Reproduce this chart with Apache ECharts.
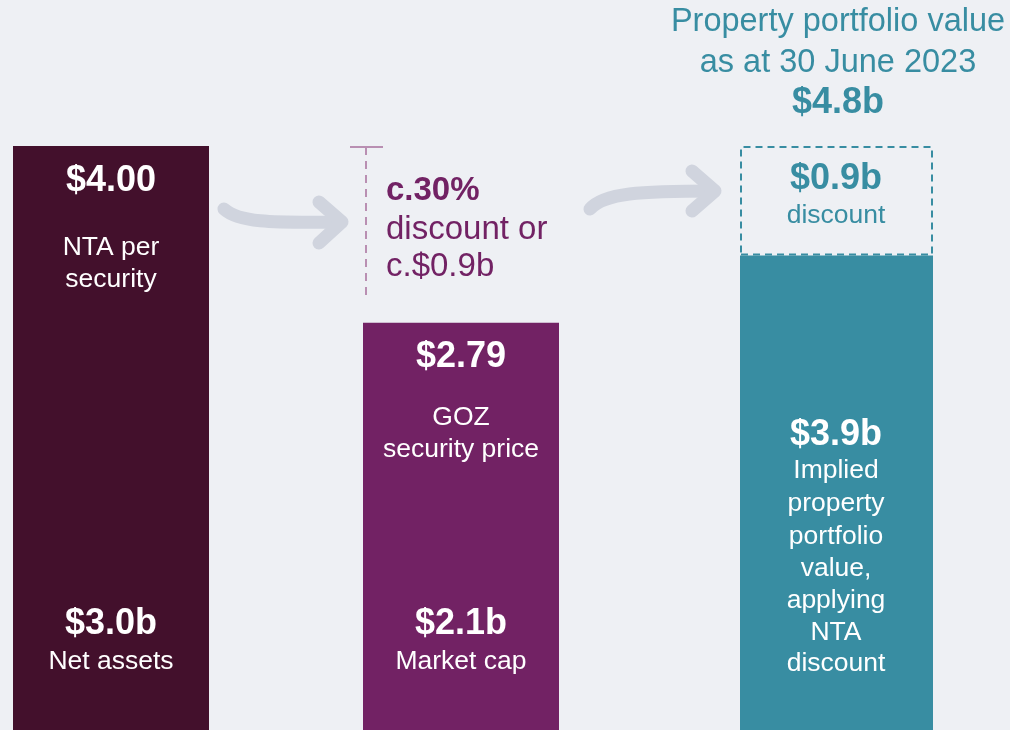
<!DOCTYPE html>
<html>
<head>
<meta charset="utf-8">
<title>GOZ NTA discount</title>
<script src="https://cdn.jsdelivr.net/npm/echarts@6/dist/echarts.min.js"></script>
<style>
  html, body { margin: 0; padding: 0; background: #eef0f4; }
  #chart { width: 1010px; height: 730px; }
</style>
</head>
<body>
<div id="chart"></div>
<script>
// values
const categories = ['NTA per security', 'GOZ security price', 'Property portfolio value']
const securityValues = [4.00, 2.79]          // $ per security (bar 1, bar 2)
const securityMax = 4.00
const impliedPortfolio = [3.9]                // $b, solid part of bar 3
const portfolioDiscount = [0.9]               // $b, dashed part of bar 3
const portfolioMax = 4.8

const maroon = '#43102c'
const purple = '#722264'
const teal = '#388da2'
const font = '"Liberation Sans", Arial, sans-serif'

const chart = echarts.init(document.getElementById('chart'))

function txt(x, y, text, size, color, bold, align) {
  return {
    type: 'text', x, y, z: 100, silent: true,
    style: {
      text, fill: color, font: (bold ? 'bold ' : '') + size + 'px ' + font,
      align: align || 'center', verticalAlign: 'middle'
    }
  }
}

const big = 36, small = 26.5, mid = 33
const graphics = [
  // bar 1
  txt(111, 181, '$4.00', big, '#fff', true),
  txt(111, 248, 'NTA per', small, '#fff'),
  txt(111, 280, 'security', small, '#fff'),
  txt(111, 624, '$3.0b', big, '#fff', true),
  txt(111, 662, 'Net assets', small, '#fff'),
  // bar 2
  txt(461, 357, '$2.79', big, '#fff', true),
  txt(461, 418, 'GOZ', small, '#fff'),
  txt(461, 450, 'security price', small, '#fff'),
  txt(461, 624, '$2.1b', big, '#fff', true),
  txt(461, 662, 'Market cap', small, '#fff'),
  // bar 3
  txt(836, 179, '$0.9b', big, teal, true),
  txt(836, 216, 'discount', small, teal),
  txt(836, 435, '$3.9b', big, '#fff', true),
  txt(836, 471, 'Implied', small, '#fff'),
  txt(836, 504, 'property', small, '#fff'),
  txt(836, 537, 'portfolio', small, '#fff'),
  txt(836, 569, 'value,', small, '#fff'),
  txt(836, 601, 'applying', small, '#fff'),
  txt(836, 633, 'NTA', small, '#fff'),
  txt(836, 664, 'discount', small, '#fff'),
  // heading over bar 3
  txt(838, 22, 'Property portfolio value', 32.5, teal),
  txt(838, 63, 'as at 30 June 2023', 32.5, teal),
  txt(838, 103, '$4.8b', big, teal, true),
  // discount annotation
  txt(386, 191, 'c.30%', mid, purple, true, 'left'),
  txt(386, 230, 'discount or', mid, purple, false, 'left'),
  txt(386, 267, 'c.$0.9b', mid, purple, false, 'left'),
  {
    type: 'line', silent: true, z: 100,
    shape: { x1: 366, y1: 147, x2: 366, y2: 298 },
    style: { stroke: '#b98fb2', lineWidth: 2, lineDash: [8, 6] }
  },
  {
    type: 'line', silent: true, z: 100,
    shape: { x1: 350, y1: 147, x2: 383, y2: 147 },
    style: { stroke: '#b98fb2', lineWidth: 2 }
  },
  // arrows
  {
    type: 'bezierCurve', silent: true, z: 100,
    shape: { x1: 224, y1: 209, cpx1: 238, cpy1: 222, cpx2: 268, cpy2: 223, x2: 340, y2: 222 },
    style: { stroke: '#d0d4de', lineWidth: 13, lineCap: 'round', fill: null }
  },
  {
    type: 'polyline', silent: true, z: 100,
    shape: { points: [[319, 202], [342, 222], [319, 243]] },
    style: { stroke: '#d0d4de', lineWidth: 13, lineCap: 'round', lineJoin: 'round', fill: null }
  },
  {
    type: 'bezierCurve', silent: true, z: 100,
    shape: { x1: 590, y1: 209, cpx1: 604, cpy1: 193, cpx2: 640, cpy2: 191, x2: 714, y2: 191 },
    style: { stroke: '#d0d4de', lineWidth: 13, lineCap: 'round', fill: null }
  },
  {
    type: 'polyline', silent: true, z: 100,
    shape: { points: [[692, 171], [715, 191], [692, 211]] },
    style: { stroke: '#d0d4de', lineWidth: 13, lineCap: 'round', lineJoin: 'round', fill: null }
  }
]

const grids = [
  { left: 13, width: 196, top: 146, bottom: 0 },
  { left: 363, width: 196, top: 146, bottom: 0 },
  { left: 740, width: 193, top: 146, bottom: 0 }
]

const xAxes = grids.map((g, i) => ({
  type: 'category', gridIndex: i, data: [categories[i]], show: false
}))
const yAxes = grids.map((g, i) => ({
  type: 'value', gridIndex: i, min: 0, max: i < 2 ? securityMax : portfolioMax, show: false
}))

chart.setOption({
  backgroundColor: '#eef0f4',
  animation: false,
  grid: grids,
  xAxis: xAxes,
  yAxis: yAxes,
  series: [
    {
      type: 'bar', xAxisIndex: 0, yAxisIndex: 0, barWidth: '100%',
      data: [securityValues[0]], itemStyle: { color: maroon }
    },
    {
      type: 'bar', xAxisIndex: 1, yAxisIndex: 1, barWidth: '100%',
      data: [securityValues[1]], itemStyle: { color: purple }
    },
    {
      type: 'bar', xAxisIndex: 2, yAxisIndex: 2, barWidth: '100%', stack: 'portfolio',
      data: impliedPortfolio, itemStyle: { color: teal }
    },
    {
      type: 'bar', xAxisIndex: 2, yAxisIndex: 2, barWidth: '100%', stack: 'portfolio',
      data: portfolioDiscount,
      itemStyle: {
        color: 'rgba(0,0,0,0)', borderColor: teal, borderWidth: 2, borderType: [7, 5]
      }
    }
  ],
  graphic: graphics
})

window.addEventListener('resize', () => chart.resize())
</script>
</body>
</html>
